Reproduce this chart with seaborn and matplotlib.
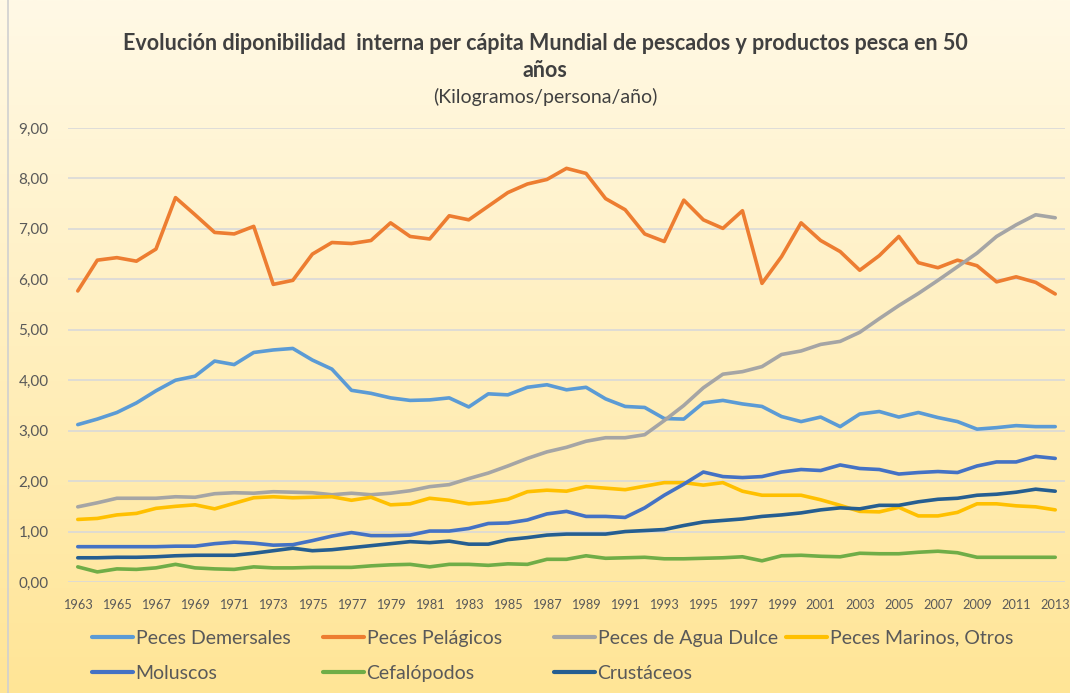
import numpy as np
import pandas as pd
import matplotlib
matplotlib.use("Agg")
import matplotlib.pyplot as plt
import seaborn as sns

# Data (kg/persona/año)
years = list(range(1963, 2014))

demersales = [3.12, 3.23, 3.36, 3.55, 3.79, 4.00, 4.08, 4.38, 4.31, 4.55,
              4.60, 4.63, 4.40, 4.22, 3.80, 3.74, 3.65, 3.60, 3.61, 3.65,
              3.47, 3.73, 3.71, 3.86, 3.91, 3.81, 3.86, 3.63, 3.48, 3.46,
              3.24, 3.23, 3.55, 3.60, 3.53, 3.48, 3.28, 3.18, 3.27, 3.08,
              3.33, 3.38, 3.27, 3.36, 3.26, 3.18, 3.03, 3.06, 3.10, 3.08, 3.08]
pelagicos = [5.77, 6.38, 6.43, 6.36, 6.60, 7.62, 7.28, 6.93, 6.90, 7.05,
             5.90, 5.98, 6.50, 6.73, 6.71, 6.77, 7.12, 6.85, 6.80, 7.26,
             7.18, 7.45, 7.72, 7.89, 7.98, 8.20, 8.10, 7.60, 7.38, 6.90,
             6.75, 7.57, 7.18, 7.01, 7.36, 5.92, 6.45, 7.12, 6.77, 6.55,
             6.18, 6.47, 6.85, 6.33, 6.23, 6.38, 6.27, 5.95, 6.05, 5.94, 5.71]
agua_dulce = [1.49, 1.57, 1.66, 1.66, 1.66, 1.69, 1.68, 1.75, 1.77, 1.76,
              1.79, 1.78, 1.77, 1.73, 1.76, 1.73, 1.76, 1.81, 1.89, 1.93,
              2.05, 2.16, 2.30, 2.45, 2.58, 2.67, 2.79, 2.86, 2.86, 2.92,
              3.20, 3.50, 3.85, 4.12, 4.17, 4.27, 4.51, 4.58, 4.71, 4.77,
              4.95, 5.22, 5.48, 5.72, 5.98, 6.25, 6.52, 6.85, 7.08, 7.28, 7.22]
marinos = [1.24, 1.26, 1.33, 1.36, 1.46, 1.50, 1.53, 1.45, 1.56, 1.67,
           1.69, 1.67, 1.68, 1.69, 1.62, 1.68, 1.53, 1.55, 1.66, 1.62,
           1.55, 1.58, 1.64, 1.79, 1.82, 1.80, 1.89, 1.86, 1.83, 1.90,
           1.97, 1.97, 1.92, 1.97, 1.80, 1.72, 1.72, 1.72, 1.63, 1.52,
           1.40, 1.39, 1.48, 1.31, 1.31, 1.38, 1.55, 1.55, 1.51, 1.49, 1.43]
moluscos = [0.70, 0.70, 0.70, 0.70, 0.70, 0.71, 0.71, 0.76, 0.79, 0.77,
            0.73, 0.74, 0.82, 0.91, 0.98, 0.92, 0.92, 0.93, 1.01, 1.01,
            1.06, 1.16, 1.17, 1.23, 1.35, 1.40, 1.30, 1.30, 1.28, 1.47,
            1.72, 1.94, 2.18, 2.09, 2.07, 2.09, 2.18, 2.23, 2.21, 2.32,
            2.25, 2.23, 2.14, 2.17, 2.19, 2.17, 2.30, 2.38, 2.38, 2.49, 2.45]
cefalopodos = [0.30, 0.20, 0.26, 0.25, 0.28, 0.35, 0.28, 0.26, 0.25, 0.30,
               0.28, 0.28, 0.29, 0.29, 0.29, 0.32, 0.34, 0.35, 0.30, 0.35,
               0.35, 0.33, 0.36, 0.35, 0.45, 0.45, 0.52, 0.47, 0.48, 0.49,
               0.46, 0.46, 0.47, 0.48, 0.50, 0.42, 0.52, 0.53, 0.51, 0.50,
               0.57, 0.56, 0.56, 0.59, 0.61, 0.58, 0.49, 0.49, 0.49, 0.49, 0.49]
crustaceos = [0.48, 0.48, 0.49, 0.49, 0.50, 0.52, 0.53, 0.53, 0.53, 0.57,
              0.62, 0.67, 0.62, 0.64, 0.68, 0.72, 0.76, 0.80, 0.78, 0.81,
              0.75, 0.75, 0.84, 0.88, 0.93, 0.95, 0.95, 0.95, 1.00, 1.02,
              1.04, 1.12, 1.19, 1.22, 1.25, 1.30, 1.33, 1.37, 1.43, 1.47,
              1.45, 1.52, 1.52, 1.59, 1.64, 1.66, 1.72, 1.74, 1.78, 1.84, 1.80]

series_names = ["Peces Demersales", "Peces Pelágicos", "Peces de Agua Dulce",
                "Peces Marinos, Otros", "Moluscos", "Cefalópodos", "Crustáceos"]
series_values = [demersales, pelagicos, agua_dulce, marinos,
                 moluscos, cefalopodos, crustaceos]
colors = ["#5B9BD5", "#ED7D31", "#A5A5A5", "#FFC000",
          "#4472C4", "#70AD47", "#255E91"]

title = ("Evolución diponibilidad  interna per cápita Mundial de pescados "
         "y productos pesca en 50\naños")
subtitle = "(Kilogramos/persona/año)"

# long format for seaborn
df = pd.concat(
    [pd.DataFrame({"year": years, "value": v, "serie": n})
     for n, v in zip(series_names, series_values)],
    ignore_index=True,
)

sns.set_theme(style="white")
plt.rcParams["font.family"] = ["Lato", "DejaVu Sans"]

W, H = 1070, 693
fig = plt.figure(figsize=(W / 100, H / 100), dpi=100)

# gradient background (light cream to yellow)
bg = fig.add_axes([0, 0, 1, 1], zorder=-10)
top = np.array([255, 249, 230]) / 255
bottom = np.array([255, 229, 150]) / 255
t = np.linspace(0, 1, 256)[:, None]
grad = top * (1 - t) + bottom * t
bg.imshow(grad[:, None, :], aspect="auto", extent=[0, 1, 0, 1])
bg.set_axis_off()
# thin frame on the left like the original screenshot
fig.add_artist(plt.Line2D([8 / W, 8 / W], [0, 1], transform=fig.transFigure,
                          color="#D0D0D0", linewidth=1.2))

ax = fig.add_axes([68 / W, 1 - 582 / H, (1065 - 68) / W, (582 - 128) / H])
ax.patch.set_alpha(0)

sns.lineplot(data=df, x="year", y="value", hue="serie", hue_order=series_names,
             palette=colors, linewidth=2.6, ax=ax, legend=False)

ax.set_xlim(1962.5, 2013.5)
ax.set_ylim(0, 9)
ax.set_yticks(range(0, 10))
ax.set_yticklabels([f"{v},00" for v in range(0, 10)])
ax.set_xticks(years[::2])
ax.set_xticklabels([str(y) for y in years[::2]])
ax.tick_params(axis="x", labelsize=9.2, colors="#595959", pad=12, length=0)
ax.tick_params(axis="y", labelsize=11, colors="#595959", pad=14, length=0)
ax.grid(axis="y", color="#D9D9D9", linewidth=1.2)
ax.set_axisbelow(True)
ax.set_xlabel("")
ax.set_ylabel("")
sns.despine(ax=ax, left=True, bottom=True)

# title block
fig.text(545 / W, 1 - 57 / H, title, ha="center", va="center", fontsize=15.5,
         fontweight="bold", color="#404040", linespacing=1.3)
fig.text(545 / W, 1 - 97 / H, subtitle, ha="center", va="center",
         fontsize=14, color="#404040")

# legend: four evenly spaced columns, two rows
handles = [plt.Line2D([], [], color=c, linewidth=3) for c in colors]
col_x = [84, 315, 546, 778]
for i, x0 in enumerate(col_x):
    idx = [i, i + 4] if i + 4 < len(series_names) else [i]
    fig.legend([handles[j] for j in idx], [series_names[j] for j in idx],
               loc="upper left", bbox_to_anchor=(x0 / W, 1 - 622 / H),
               frameon=False, fontsize=14, handlelength=2.1,
               handletextpad=0.15, labelspacing=0.95, borderaxespad=0,
               labelcolor="#595959")

fig.savefig("out.png", dpi=100)
